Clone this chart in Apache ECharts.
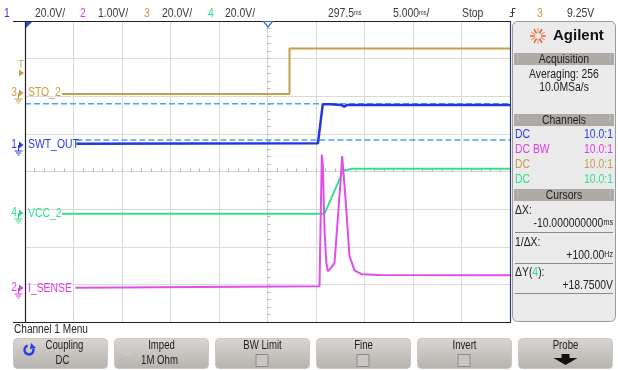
<!DOCTYPE html>
<html><head><meta charset="utf-8">
<script src="https://cdn.jsdelivr.net/npm/echarts@6/dist/echarts.min.js"></script>
<style>html,body{margin:0;padding:0;background:#fff}#c{width:618px;height:370px}</style>
</head><body><div id="c"></div>
<script>
const FONT = "'Liberation Sans', Arial, sans-serif";

// Horizontal: time in ms (5 ms/div, screen centre = 0). Vertical: divisions from screen centre.
const sto2X = [-21.2, 2.27, 2.27, 25];
const sto2Y = [2.06, 2.06, 3.27, 3.27];

const swtX = [-19.7, 5.2, 5.35, 5.7, 6.5, 7.6, 7.9, 8.2, 25];
const swtY = [0.74, 0.75, 0.78, 1.79, 1.79, 1.77, 1.72, 1.77, 1.77];

const vccX = [-21.2, 5.88, 7.84, 8.2, 8.63, 25];
const vccY = [-1.12, -1.12, 0.035, 0.04, 0.07, 0.07];

const isenseX = [-19.8, 5.36, 5.52, 5.60, 5.70, 5.88, 6.05, 6.21, 6.49, 6.91, 7.32, 7.58, 7.70, 7.81, 8.09, 8.45, 8.97, 9.69, 11.55, 25];
const isenseY = [-3.09, -3.05, -0.74, 0.45, 0.19, -1.54, -2.39, -2.65, -2.58, -2.43, -1.01, -0.08, 0.41, 0.37, -0.88, -2.25, -2.63, -2.73, -2.75, -2.76];

const cursorLevels = [1.80, 0.84];
const cursorStart = [-25, -19.7];

const headerScales = [['1', '20.0V/'], ['2', '1.00V/'], ['3', '20.0V/'], ['4', '20.0V/']];
const traceNames = ['SWT_OUT', 'I_SENSE', 'STO_2', 'VCC_2'];
const chColors = ['#2b3be6', '#e03ce6', '#c4a04a', '#2fe08a'];
const chCoupling = ['DC', 'DC BW', 'DC', 'DC'];
const chProbe = ['10.0:1', '10.0:1', '10.0:1', '10.0:1'];
const buttons = [['Coupling', 'DC'], ['Imped', '1M Ohm'], ['BW Limit', 'box'], ['Fine', 'box'], ['Invert', 'box'], ['Probe', 'arrow']];

function pairs(xs, ys) { return xs.map((x, i) => [x, ys[i]]); }

const chart = echarts.init(document.getElementById('c'));

function T(text, x, y, fill, size, align, sx, rich) {
  const st = { text: text, x: 0, y: 0, fill: fill || '#333', font: (size || 12) + 'px ' + FONT, textAlign: align || 'left', textVerticalAlign: 'middle' };
  if (rich) st.rich = rich;
  return { type: 'text', silent: true, z: 50, x: x, y: y, scaleX: sx || 0.84, style: st };
}
function L(x1, y1, x2, y2, color, w) {
  return { type: 'line', silent: true, z: 40, shape: { x1: x1, y1: y1, x2: x2, y2: y2 }, style: { stroke: color, lineWidth: w || 1 } };
}
const small = { u: { fontSize: 7, fill: '#3a3a3a', fontFamily: FONT } };

const g = [];
// header
const hx = [[4, 35], [80, 98], [144, 162], [208, 225]];
headerScales.forEach((h, i) => {
  g.push(T(h[0], hx[i][0], 13, chColors[i], 13, 'left', 0.8));
  g.push(T(h[1], hx[i][1], 13, '#3a3a3a', 13, 'left', 0.8));
});
g.push(T('297.5{u|ms}', 328, 13, '#3a3a3a', 13, 'left', 0.8, small));
g.push(T('5.000{u|ms}/', 393, 13, '#3a3a3a', 13, 'left', 0.8, small));
g.push(T('Stop', 462, 13, '#3a3a3a', 13, 'left', 0.8));
// trigger edge glyph
g.push(L(509.5, 16.5, 512.5, 16.5, '#3a3a3a', 1));
g.push(L(512.5, 16.5, 512.5, 8.5, '#3a3a3a', 1));
g.push(L(512.5, 8.5, 515.5, 8.5, '#3a3a3a', 1));
g.push(L(510.5, 12.5, 514.5, 12.5, '#3a3a3a', 1));
g.push(T('3', 537, 13, chColors[2], 13, 'left', 0.8));
g.push(T('9.25V', 567, 13, '#3a3a3a', 13, 'left', 0.8));

// plot frame
g.push(L(13, 21.5, 510, 21.5, '#222', 1));
g.push(L(13, 322.5, 510, 322.5, '#222', 1));
g.push(L(25.5, 21, 25.5, 323, '#222', 1.2));
g.push(L(510.5, 21, 510.5, 323, '#2a3a70', 1.2));
g.push({ type: 'polygon', silent: true, z: 41, shape: { points: [[26, 22], [32, 22], [26, 28]] }, style: { fill: '#2b4be0' } });
g.push({ type: 'polygon', silent: true, z: 41, shape: { points: [[263.5, 21.5], [272.5, 21.5], [268, 27]] }, style: { fill: '#fff', stroke: '#3a70e0', lineWidth: 1.2 } });

// left channel markers
function marker(y, color, num) {
  g.push(T(num, 17, y, color, 12, 'right', 0.85));
  g.push({ type: 'polygon', silent: true, z: 41, shape: { points: [[19, y - 3.5], [23.5, y], [19, y + 3.5]] }, style: { fill: color } });
  g.push(L(18.5, y, 18.5, y + 6, color, 1));
  g.push(L(14.5, y + 6, 22.5, y + 6, color, 1));
  g.push(L(16, y + 8, 21, y + 8, color, 1));
  g.push(L(17.5, y + 10, 19.5, y + 10, color, 1));
}
marker(93, chColors[2], '3');
marker(145, chColors[0], '1');
marker(213, chColors[3], '4');
marker(288, chColors[1], '2');
g.push(T('T', 21, 65, chColors[2], 10, 'center', 0.9));
g.push({ type: 'polygon', silent: true, z: 41, shape: { points: [[19, 69.5], [24, 73], [19, 76.5]] }, style: { fill: chColors[2] } });

// trace names
g.push(T(traceNames[2], 28, 92, chColors[2], 13, 'left', 0.8));
g.push(T(traceNames[0], 28, 144, chColors[0], 13, 'left', 0.8));
g.push(T(traceNames[3], 28, 213, chColors[3], 13, 'left', 0.8));
g.push(T(traceNames[1], 28, 288, chColors[1], 13, 'left', 0.8));

// right panel
g.push({ type: 'rect', silent: true, z: 30, shape: { x: 512.5, y: 21.5, width: 103, height: 300, r: 5 }, style: { fill: '#ebebeb', stroke: '#9a9a9a', lineWidth: 1 } });
for (let k = 0; k < 12; k++) {
  const a = k * Math.PI / 6;
  g.push(L(538 + 3 * Math.cos(a), 36 + 3 * Math.sin(a), 538 + 8 * Math.cos(a), 36 + 8 * Math.sin(a), k % 2 ? '#f5a070' : '#e8502a', 1.3));
}
g.push({ type: 'text', silent: true, z: 50, style: { text: 'Agilent', x: 553, y: 36, fill: '#111', font: 'bold 15px "Liberation Sans", Arial, sans-serif', textVerticalAlign: 'middle' } });
function bar(y, label) {
  g.push({ type: 'rect', silent: true, z: 35, shape: { x: 514, y: y, width: 100, height: 12 }, style: { fill: '#aeaaa6' } });
  g.push(T(label, 564, y + 6, '#222', 13, 'center', 0.8));
  g.push(T('⁞', 518, y + 6, '#d8d6d4', 9, 'center', 1));
  g.push(T('⁞', 610, y + 6, '#d8d6d4', 9, 'center', 1));
}
bar(53, 'Acquisition');
g.push(T('Averaging: 256', 564, 74, '#222', 13, 'center', 0.8));
g.push(T('10.0MSa/s', 564, 87, '#222', 13, 'center', 0.8));
bar(114, 'Channels');
[134, 149, 164, 179].forEach((y, i) => {
  g.push(T(chCoupling[i], 515, y, chColors[i], 13, 'left', 0.8));
  g.push(T(chProbe[i], 613, y, chColors[i], 13, 'right', 0.8));
});
bar(189, 'Cursors');
const smallDark = { u: { fontSize: 9, fill: '#222', fontFamily: FONT }, g: { fontSize: 13, fill: chColors[3], fontFamily: FONT } };
g.push(T('ΔX:', 515, 210, '#222', 13, 'left', 0.8));
g.push(T('-10.000000000{u|ms}', 613, 223, '#222', 13, 'right', 0.8, smallDark));
g.push(L(515, 232.5, 613, 232.5, '#8a8a8a', 1));
g.push(T('1/ΔX:', 515, 242, '#222', 13, 'left', 0.8));
g.push(T('+100.00{u|Hz}', 613, 255, '#222', 13, 'right', 0.8, smallDark));
g.push(L(515, 263.5, 613, 263.5, '#8a8a8a', 1));
g.push(T('ΔY({g|4}):', 515, 272, '#222', 13, 'left', 0.8, smallDark));
g.push(T('+18.7500V', 613, 285, '#222', 13, 'right', 0.8));
g.push(L(515, 293.5, 613, 293.5, '#8a8a8a', 1));

// bottom menu
g.push(T('Channel 1 Menu', 14, 330, '#222', 12, 'left', 0.84));
buttons.forEach((b, i) => {
  const x = 13 + 101 * i;
  g.push({ type: 'rect', silent: true, z: 30, shape: { x: x + 0.5, y: 338.5, width: 94, height: 30, r: 4 }, style: { fill: new echarts.graphic.LinearGradient(0, 0, 0, 1, [{ offset: 0, color: '#d9d6d3' }, { offset: 1, color: '#b6b2ae' }]), stroke: '#c9c6c3', lineWidth: 1 } });
  const cx = x + 47.5;
  g.push(T(b[0], cx + (i === 0 ? 4 : 0), 346, '#222', 12, 'center', 0.8));
  if (b[1] === 'box') {
    g.push({ type: 'rect', silent: true, z: 40, shape: { x: cx - 6.5, y: 354.5, width: 12, height: 12 }, style: { fill: '#c9c6c3', stroke: '#8c8a88', lineWidth: 1 } });
  } else if (b[1] === 'arrow') {
    g.push({ type: 'polygon', silent: true, z: 40, shape: { points: [[cx - 4, 354], [cx + 4, 354], [cx + 4, 358], [cx + 12, 358], [cx, 365], [cx - 12, 358], [cx - 4, 358]] }, style: { fill: '#111' } });
  } else {
    g.push(T(b[1], cx + (i === 0 ? 2 : -2), 361, '#222', 12, 'center', 0.8));
  }
});
// coupling icon
g.push({ type: 'arc', silent: true, z: 41, shape: { cx: 29, cy: 350, r: 4.5, startAngle: -0.3, endAngle: 4.4 }, style: { stroke: '#2b3be6', lineWidth: 2.5, fill: null } });
g.push({ type: 'polygon', silent: true, z: 41, shape: { points: [[31, 343], [36, 348], [30, 349]] }, style: { fill: '#2b3be6' } });
g.push({ type: 'arc', silent: true, z: 41, shape: { cx: 127, cy: 350, r: 4.5, startAngle: -0.3, endAngle: 4.4 }, style: { stroke: '#d0ccc8', lineWidth: 1.5, fill: null } });

function trace(xs, ys, color, w, z) {
  return { type: 'line', data: pairs(xs, ys), showSymbol: false, silent: true, z: z, animation: false, lineStyle: { color: color, width: w }, itemStyle: { color: color } };
}
const series = [];
cursorLevels.forEach((lv, i) => {
  series.push({ type: 'line', data: [[cursorStart[i], lv], [25, lv]], showSymbol: false, silent: true, z: 3, lineStyle: { color: '#4aa3f5', width: 1.5, type: [6, 3] } });
});
series.push(trace(sto2X, sto2Y, '#c4a04a', 2, 5));
series.push(trace(vccX, vccY, '#36e08c', 2, 5));
series.push(trace(isenseX, isenseY, '#e14ee8', 2, 6));
series.push(trace(swtX, swtY, '#2436e2', 2.5, 7));

const axisCommon = {
  type: 'value',
  axisLine: { show: true, onZero: true, lineStyle: { color: '#d2d2d2', width: 1 } },
  axisTick: { show: true, inside: true, length: 3, lineStyle: { color: '#b8b8b8' } },
  minorTick: { show: true, splitNumber: 5, length: 3, lineStyle: { color: '#b8b8b8' } },
  axisLabel: { show: false },
  splitLine: { show: true, lineStyle: { color: '#dadada', width: 1 } }
};

chart.setOption({
  animation: false,
  backgroundColor: '#ffffff',
  grid: { left: 25, top: 21, width: 485, height: 301, show: false },
  xAxis: Object.assign({}, axisCommon, { min: -25, max: 25, interval: 5 }),
  yAxis: Object.assign({}, axisCommon, { min: -4, max: 4, interval: 1 }),
  series: series,
  graphic: g
});
</script>
</body></html>
